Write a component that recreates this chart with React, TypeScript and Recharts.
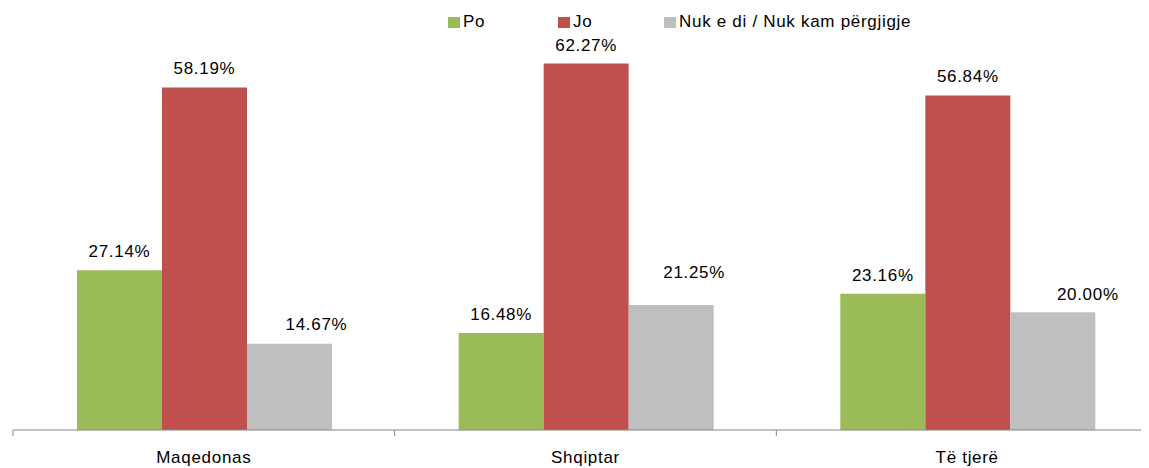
import React from 'react';
import { BarChart, Bar, XAxis, YAxis, LabelList } from 'recharts';

const categories = ['Maqedonas', 'Shqiptar', 'Të tjerë'];
const poValues = [27.14, 16.48, 23.16];
const joValues = [58.19, 62.27, 56.84];
const nukValues = [14.67, 21.25, 20.0];
const seriesNames = ['Po', 'Jo', 'Nuk e di / Nuk kam përgjigje'];
const seriesKeys = ['po', 'jo', 'nuk'];
const seriesColors = ['#9BBB59', '#C0504D', '#BFBFBF'];
const yDomain = [0, 70];

// label nudges [dx, dy] per series/point (style only)
const labelNudges: Record<string, number[][]> = {
  po: [[0, 0], [0, 0], [0, 1]],
  jo: [[0, 0], [0, 1], [0, 0]],
  nuk: [[27, 0], [23, -13], [35, 1]],
};

const data = categories.map((c, i) => ({
  category: c,
  po: poValues[i],
  jo: joValues[i],
  nuk: nukValues[i],
}));

const CHART_W = 1170;
const CHART_H = 468;
const MARGIN = { top: 18, right: 12, bottom: 0, left: 13 };
const XAXIS_H = 38;
const AXIS_Y = CHART_H - MARGIN.bottom - XAXIS_H;
const PLOT_W = CHART_W - MARGIN.left - MARGIN.right;
const HALF_BAND = PLOT_W / categories.length / 2;
const FONT = '"Liberation Sans", Arial, sans-serif';
const FONT_SIZE = 17;
const LETTER_SPACING = 0.7;
const AXIS_COLOR = '#868686';

const CategoryTick = (props: any) => {
  const { x, payload, index } = props;
  return (
    <g>
      {index === 0 && (
        <line x1={x - HALF_BAND} x2={x - HALF_BAND} y1={AXIS_Y} y2={AXIS_Y + 6} stroke={AXIS_COLOR} strokeWidth={1} />
      )}
      <line x1={x + HALF_BAND} x2={x + HALF_BAND} y1={AXIS_Y} y2={AXIS_Y + 6} stroke={AXIS_COLOR} strokeWidth={1} />
      <text
        x={x}
        y={AXIS_Y + 32.5}
        textAnchor="middle"
        fill="#000"
        style={{ fontFamily: FONT, fontSize: FONT_SIZE, letterSpacing: LETTER_SPACING }}
      >
        {payload.value}
      </text>
    </g>
  );
};

const makeLabel = (key: string) => (props: any) => {
  const { x, y, width, value, index } = props;
  const [dx, dy] = labelNudges[key][index] || [0, 0];
  return (
    <text
      x={Number(x) + Number(width) / 2 + dx}
      y={Number(y) - 13.5 + dy}
      textAnchor="middle"
      fill="#000"
      style={{ fontFamily: FONT, fontSize: FONT_SIZE, letterSpacing: LETTER_SPACING }}
    >
      {Number(value).toFixed(2) + '%'}
    </text>
  );
};

const legendItemWidths = [110, 106, 300];

const Legend = () => (
  <div
    style={{
      position: 'absolute',
      top: 12,
      left: 448,
      display: 'flex',
      fontFamily: FONT,
      fontSize: FONT_SIZE,
      letterSpacing: LETTER_SPACING,
      lineHeight: '20px',
      color: '#000',
    }}
  >
    {seriesNames.map((name, i) => (
      <div key={name} style={{ display: 'flex', alignItems: 'center', width: legendItemWidths[i] }}>
        <span style={{ display: 'inline-block', width: 12, height: 11, background: seriesColors[i], marginRight: 3 }} />
        <span style={{ whiteSpace: 'nowrap' }}>{name}</span>
      </div>
    ))}
  </div>
);

export default function App() {
  return (
    <div style={{ position: 'relative', width: 1133, height: 460 }}>
      <div
        style={{
          position: 'absolute',
          left: -8,
          top: -8,
          width: 1149,
          height: CHART_H,
          overflow: 'hidden',
          background: '#fff',
        }}
      >
        <BarChart
          width={CHART_W}
          height={CHART_H}
          data={data}
          margin={MARGIN}
          barCategoryGap={64}
          barGap={0}
        >
          <XAxis
            dataKey="category"
            height={XAXIS_H}
            axisLine={{ stroke: AXIS_COLOR, strokeWidth: 1 }}
            tickLine={false}
            interval={0}
            tick={<CategoryTick />}
          />
          <YAxis hide domain={yDomain} />
          {seriesKeys.map((k, i) => (
            <Bar key={k} dataKey={k} name={seriesNames[i]} fill={seriesColors[i]} isAnimationActive={false}>
              <LabelList dataKey={k} content={makeLabel(k)} />
            </Bar>
          ))}
        </BarChart>
        <Legend />
      </div>
    </div>
  );
}
